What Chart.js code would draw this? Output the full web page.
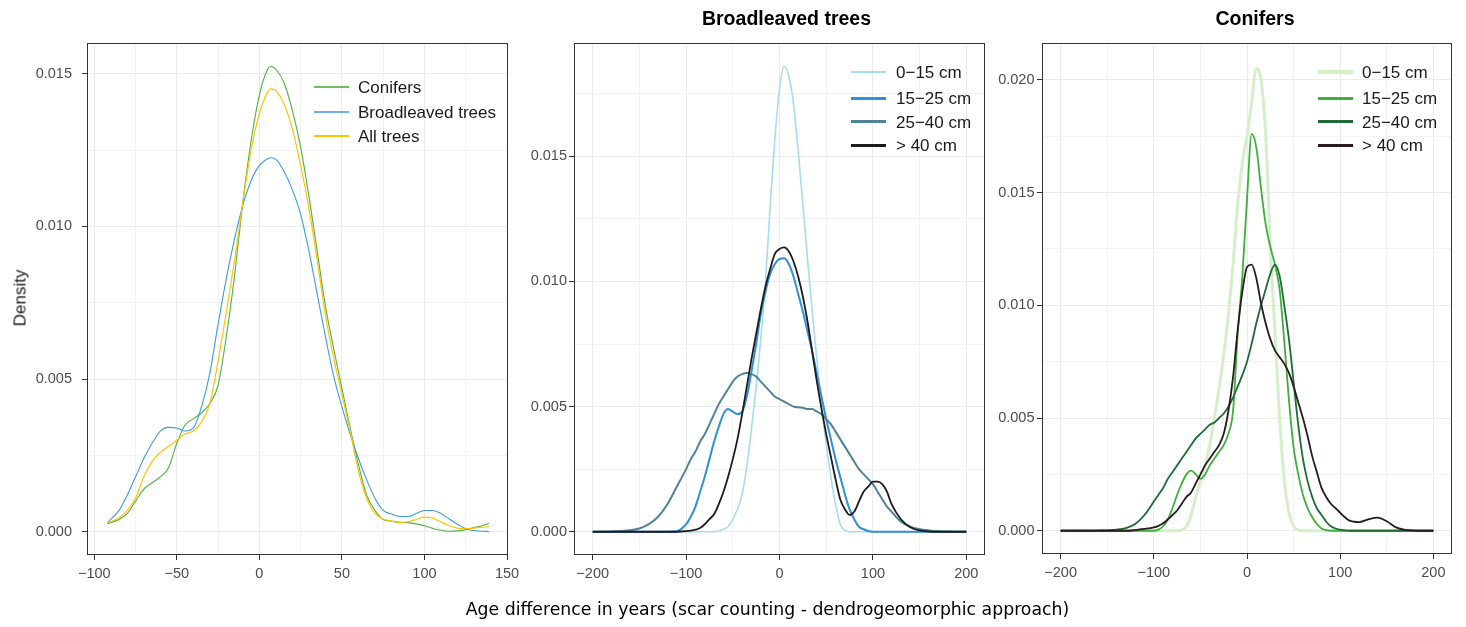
<!DOCTYPE html>
<html><head><meta charset="utf-8">
<script src="https://cdn.jsdelivr.net/npm/chart.js@4.4.0/dist/chart.umd.min.js"></script>
<style>
html,body{margin:0;padding:0;background:#fff;}
#wrap{position:relative;width:1466px;height:627px;overflow:hidden;font-family:'Liberation Sans',Arial,sans-serif;background:#fff;}
canvas{position:absolute;left:0;top:0;}
.txt{position:absolute;white-space:nowrap;line-height:1;}
.ttl{font-weight:bold;font-size:19.5px;color:#000;transform:translateX(-50%);}
.sw{position:absolute;width:35px;}
.lt{position:absolute;font-size:17px;line-height:17px;color:#1a1a1a;white-space:nowrap;transform:translateY(-50%);}
</style></head>
<body><div id="wrap">
<canvas id="c1" width="1466" height="627"></canvas>
<canvas id="c2" width="1466" height="627"></canvas>
<canvas id="c3" width="1466" height="627"></canvas>
<div class="txt ttl" style="left:786.5px;top:8.5px;">Broadleaved trees</div>
<div class="txt ttl" style="left:1255px;top:8.5px;">Conifers</div>
<div class="txt" style="left:20px;top:298px;font-size:17px;font-weight:normal;color:#1a1a1a;transform:translate(-50%,-50%) rotate(-90deg);">Density</div>
<div class="txt" style="left:767.5px;top:601.4px;font-family:'DejaVu Sans',Verdana,sans-serif;font-size:17.3px;color:#000;transform:translateX(-50%);">Age difference in years (scar counting - dendrogeomorphic approach)</div>
</div>
<script>
// ---------- Panel 1: all trees by group ----------
const overallX = [-92,-85,-80,-75,-70,-65,-60,-55,-50,-45,-40,-35,-30,-25,-20,-15,-10,-5,0,5,7,10,15,20,25,30,35,40,45,50,55,60,65,70,75,80,85,90,95,100,105,110,115,120,125,130,135,139];
const conifersAll = [0.00027,0.0004,0.0006,0.0010,0.0014,0.0016,0.0018,0.0021,0.0029,0.0035,0.0037,0.0039,0.0042,0.0048,0.0064,0.0084,0.0108,0.0128,0.0143,0.01515,0.01524,0.01515,0.0147,0.0138,0.0126,0.0110,0.0092,0.0074,0.0060,0.0047,0.0034,0.0022,0.0012,0.0007,0.0004,0.00035,0.00031,0.0003,0.00026,0.0002,0.00011,0.00005,0.00002,0.00003,0.00007,0.00014,0.0002,0.00027];
const broadleavedAll = [0.0003,0.0007,0.0012,0.0018,0.0024,0.0029,0.0033,0.00342,0.0034,0.0033,0.0034,0.0041,0.0052,0.0068,0.0083,0.0096,0.0107,0.0115,0.0120,0.01222,0.01225,0.0122,0.0118,0.0112,0.0104,0.0092,0.0078,0.0064,0.0051,0.0041,0.0032,0.0024,0.0017,0.0011,0.0007,0.00058,0.0005,0.0005,0.0006,0.0007,0.0007,0.0006,0.00042,0.00025,0.0001,0.00004,0.00002,0.00001];
const allTrees = [0.00029,0.00045,0.0007,0.0011,0.0018,0.0023,0.0026,0.0028,0.0030,0.0032,0.0033,0.0036,0.0042,0.0056,0.0072,0.0089,0.0108,0.0125,0.0137,0.0144,0.01451,0.01445,0.0140,0.0132,0.0120,0.0106,0.0089,0.0071,0.0057,0.0045,0.0033,0.0020,0.0011,0.0006,0.00042,0.00035,0.00031,0.00033,0.0004,0.00048,0.00045,0.00032,0.0002,0.00012,0.0001,0.00012,0.00015,0.00016];
const groupNames = ['Conifers','Broadleaved trees','All trees'];

// ---------- Panels 2 & 3: by diameter class ----------
const diamX = [-200,-180,-160,-150,-140,-130,-120,-110,-100,-95,-90,-85,-80,-75,-70,-65,-60,-55,-50,-45,-40,-35,-30,-25,-20,-15,-10,-5,0,5,10,15,20,25,30,35,40,45,50,55,60,65,70,75,80,85,90,95,100,105,110,115,120,130,140,150,160,170,180,190,200];
const classNames = ['0\u221215 cm','15\u221225 cm','25\u221240 cm','> 40 cm'];

const broad0_15 = [0,0,0,0,0,0,0,0,0,0,0,0,0,0,0,0.00003,0.0001,0.0002,0.0005,0.0009,0.0015,0.0026,0.0041,0.0058,0.0077,0.0100,0.0130,0.0157,0.0177,0.0186,0.0182,0.0171,0.0152,0.0131,0.0109,0.0088,0.0069,0.0050,0.0035,0.0022,0.0011,0.0003,0.00005,0,0,0,0,0,0,0,0,0,0,0,0,0,0,0,0,0,0];
const broad15_25 = [0,0,0,0,0,0,0,0.00002,0.0003,0.0006,0.0010,0.0016,0.0022,0.0029,0.0036,0.0042,0.0047,0.0049,0.0048,0.0047,0.0048,0.0054,0.0064,0.0075,0.0087,0.0096,0.0103,0.0107,0.0109,0.01093,0.0107,0.0102,0.0095,0.0088,0.0080,0.0072,0.0063,0.0054,0.0045,0.0037,0.0029,0.0022,0.0015,0.0009,0.0005,0.0002,0.0001,0.00003,0,0,0,0,0,0,0,0,0,0,0,0,0];
const broad25_40 = [0,0.00001,0.00006,0.00013,0.0003,0.0006,0.0011,0.0018,0.0025,0.0029,0.0032,0.0036,0.0039,0.0043,0.0047,0.0051,0.0054,0.0057,0.0060,0.0062,0.0063,0.00634,0.0063,0.0062,0.0060,0.0058,0.0056,0.0054,0.0053,0.0052,0.0051,0.0050,0.00497,0.00495,0.0049,0.0049,0.0048,0.0047,0.0045,0.0043,0.0040,0.0037,0.0034,0.0031,0.0028,0.0025,0.0023,0.0021,0.0019,0.0016,0.0013,0.0010,0.0008,0.0004,0.0002,0.0001,0.00005,0.00002,0.00001,0,0];
const broad40 = [0,0,0,0,0,0,0,0,0.00002,0.00004,0.00008,0.00015,0.0003,0.0005,0.0007,0.0011,0.0016,0.0022,0.0029,0.0037,0.0047,0.0058,0.0069,0.0079,0.0089,0.0098,0.0105,0.0111,0.0113,0.01136,0.0112,0.0108,0.0102,0.0094,0.0084,0.0072,0.0060,0.0049,0.0039,0.0030,0.0021,0.0013,0.0009,0.00067,0.0008,0.0012,0.0016,0.0018,0.0020,0.0020,0.0019,0.0016,0.0011,0.0005,0.00018,0.00005,0.00001,0,0,0,0];

const conif0_15 = [0,0,0,0,0,0,0,0,0,0,0,0,0,0,0.00003,0.0002,0.0007,0.0015,0.0022,0.0029,0.0038,0.0050,0.0063,0.0078,0.0096,0.0118,0.0145,0.0163,0.0175,0.0190,0.0205,0.0200,0.0176,0.0126,0.0088,0.0050,0.0022,0.0008,0.0002,0.00003,0,0,0,0,0,0,0,0,0,0,0,0,0,0,0,0,0,0,0,0,0];
const conif15_25 = [0,0,0,0,0,0,0,0,0,0.00005,0.0002,0.0005,0.0010,0.0016,0.0021,0.0025,0.00267,0.0025,0.0023,0.0025,0.0029,0.0032,0.0035,0.0038,0.0043,0.0053,0.0087,0.0113,0.0147,0.0176,0.0170,0.0152,0.0136,0.0126,0.0118,0.0107,0.0084,0.0058,0.0037,0.0025,0.0016,0.0010,0.0006,0.0003,0.0001,0.00003,0,0,0,0,0,0,0,0,0,0,0,0,0,0,0];
const conif25_40 = [0,0,0.00001,0.00002,0.00005,0.00012,0.0003,0.0007,0.0013,0.0016,0.0019,0.0023,0.0026,0.0029,0.0032,0.0035,0.0038,0.0041,0.0043,0.0045,0.0047,0.0048,0.0050,0.0052,0.0055,0.0059,0.0064,0.0069,0.0075,0.0083,0.0092,0.0100,0.0107,0.0114,0.0118,0.0113,0.0100,0.0085,0.0066,0.0047,0.0032,0.0022,0.0015,0.0010,0.0007,0.0004,0.0002,0.0001,0.00005,0.00002,0,0,0,0,0,0,0,0,0,0,0];
const conif40 = [0,0,0,0,0,0,0.00003,0.00008,0.00015,0.00022,0.00033,0.0005,0.0007,0.0009,0.0012,0.0015,0.0017,0.0021,0.0025,0.0029,0.0032,0.0035,0.0038,0.0043,0.0053,0.0068,0.0089,0.0106,0.0117,0.0118,0.0112,0.0101,0.0092,0.0085,0.0080,0.0077,0.0074,0.0070,0.0064,0.0057,0.0050,0.0042,0.0033,0.0026,0.0019,0.0015,0.0012,0.0010,0.0008,0.0006,0.00045,0.0004,0.00038,0.0005,0.00058,0.00042,0.00015,0.00004,0.00001,0,0];

// ---------- Tick labels ----------
const p1XMajor = [-100,-50,0,50,100,150];
const p1YMajor = [0,0.005,0.010,0.015];
const p2XMajor = [-200,-100,0,100,200];
const p2YMajor = [0,0.005,0.010,0.015];
const p3XMajor = [-200,-100,0,100,200];
const p3YMajor = [0,0.005,0.010,0.015,0.020];

Chart.defaults.font.family = "'Liberation Sans', Arial, sans-serif";
Chart.defaults.font.size = 14.5;
Chart.defaults.color = '#4D4D4D';

const boxPlugin = {
  id: 'panelBox',
  afterDraw(chart) {
    const {ctx, chartArea: a} = chart;
    const l = Math.round(a.left), t = Math.round(a.top), r = Math.round(a.right), b = Math.round(a.bottom);
    ctx.save();
    ctx.strokeStyle = '#333333';
    ctx.lineWidth = 1;
    ctx.strokeRect(l + 0.5, t + 0.5, r - l - 1, b - t - 1);
    ctx.restore();
  }
};

function withMinors(major) {
  const out = [];
  for (let i = 0; i < major.length; i++) {
    out.push(major[i]);
    if (i < major.length - 1) out.push((major[i] + major[i + 1]) / 2);
  }
  return out;
}
function isIn(v, arr) { return arr.some(m => Math.abs(m - v) < 1e-9); }
function fmtX(v) { return v < 0 ? '\u2212' + Math.abs(v) : String(v); }

function makePanel(id, area, xr, yr, xMajor, yMajorRaw, yExtraMinor, xs, series, yPad) {
  const xTicks = withMinors(xMajor);
  const yTicks = withMinors(yMajorRaw).concat(yExtraMinor);
  const n = series.length;
  const gridColor = (major) => (ctx) => isIn(ctx.tick.value, major) ? '#EBEBEB' : '#F3F3F3';
  const tickColor = (major) => (ctx) => isIn(ctx.tick.value, major) ? '#333333' : 'rgba(0,0,0,0)';
  return new Chart(document.getElementById(id), {
    type: 'line',
    data: {
      datasets: series.map((s, i) => ({
        label: s.name,
        data: xs.map((x, k) => ({x: x, y: s.values[k]})),
        borderColor: s.color,
        borderWidth: s.width,
        pointRadius: 0,
        fill: false,
        cubicInterpolationMode: 'monotone',
        order: n - 1 - i
      }))
    },
    options: {
      responsive: false, animation: false, devicePixelRatio: 1, events: [],
      layout: { padding: { left: area.left - 60, right: 1466 - area.right, top: area.top, bottom: 627 - area.bottom - 40 } },
      plugins: { legend: { display: false }, tooltip: { enabled: false }, title: { display: false } },
      scales: {
        x: {
          type: 'linear', min: xr[0], max: xr[1],
          afterBuildTicks: s => { s.ticks = xTicks.map(v => ({value: v})); },
          afterFit: s => { s.height = 40; },
          border: { display: false },
          grid: { color: gridColor(xMajor), lineWidth: 1, drawTicks: true, tickLength: 5, tickWidth: 1, tickColor: tickColor(xMajor) },
          ticks: { padding: 5, maxRotation: 0, autoSkip: false, color: '#4D4D4D',
                   callback: v => isIn(v, xMajor) ? fmtX(v) : '' }
        },
        y: {
          type: 'linear', min: yr[0], max: yr[1],
          afterBuildTicks: s => { s.ticks = yTicks.map(v => ({value: v})); },
          afterFit: s => { s.width = 60; },
          border: { display: false },
          grid: { color: gridColor(yMajorRaw), lineWidth: 1, drawTicks: true, tickLength: 5, tickWidth: 1, tickColor: tickColor(yMajorRaw) },
          ticks: { padding: yPad, autoSkip: false, color: '#4D4D4D',
                   callback: v => isIn(v, yMajorRaw) ? v.toFixed(3) : '' }
        }
      }
    },
    plugins: [boxPlugin]
  });
}

makePanel('c1', {left: 87, right: 508, top: 43, bottom: 555}, [-104.4, 150.6], [-0.00076, 0.01601],
  p1XMajor, p1YMajor, [], overallX, [
    {name: groupNames[0], values: conifersAll, color: '#52B044', width: 1.1},
    {name: groupNames[1], values: broadleavedAll, color: '#3C9BE0', width: 1.1},
    {name: groupNames[2], values: allTrees, color: '#FFC400', width: 1.2}
  ], 10);

makePanel('c2', {left: 574, right: 985, top: 43, bottom: 555}, [-220, 220], [-0.00093, 0.01953],
  p2XMajor, p2YMajor, [0.0175], diamX, [
    {name: classNames[0], values: broad0_15, color: '#A6DCF2', width: 1.6},
    {name: classNames[1], values: broad15_25, color: '#2F8FD8', width: 2},
    {name: classNames[2], values: broad25_40, color: '#4F8399', width: 2},
    {name: classNames[3], values: broad40, color: '#1E1A1E', width: 1.8}
  ], 2);

makePanel('c3', {left: 1042, right: 1452, top: 43, bottom: 554}, [-220, 220], [-0.00103, 0.02163],
  p3XMajor, p3YMajor, [], diamX, [
    {name: classNames[0], values: conif0_15, color: '#D5EFCB', width: 3},
    {name: classNames[1], values: conif15_25, color: '#3CAF3C', width: 1.8},
    {name: classNames[2], values: conif25_40, color: '#1E6B36', width: 1.8},
    {name: classNames[3], values: conif40, color: '#2A1A1F', width: 1.8}
  ], 2.5);

// ---------- Legends (HTML text) ----------
function legend(x, rows, textX, items) {
  const wrap = document.getElementById('wrap');
  items.forEach((it, i) => {
    const y = rows[i];
    const sw = document.createElement('div');
    sw.className = 'sw';
    sw.style.left = x + 'px';
    sw.style.top = Math.round(y - it.w / 2) + 'px';
    sw.style.height = it.w + 'px';
    sw.style.background = it.color;
    wrap.appendChild(sw);
    const t = document.createElement('div');
    t.className = 'lt';
    t.style.left = textX + 'px';
    t.style.top = y + 'px';
    t.textContent = it.name;
    wrap.appendChild(t);
  });
}
legend(314, [87.3, 111.7, 136], 358, [
  {name: groupNames[0], color: '#6CC05E', w: 2},
  {name: groupNames[1], color: '#6DB3E8', w: 2},
  {name: groupNames[2], color: '#FFC400', w: 2}
]);
legend(851, [72.3, 98.3, 121.7, 145], 896, [
  {name: classNames[0], color: '#A6DCF2', w: 2},
  {name: classNames[1], color: '#2F8FD8', w: 3},
  {name: classNames[2], color: '#4F8399', w: 3},
  {name: classNames[3], color: '#1E1A1E', w: 3}
]);
legend(1318, [72.3, 98.3, 121.7, 145], 1362, [
  {name: classNames[0], color: '#D5EFCB', w: 4},
  {name: classNames[1], color: '#3CAF3C', w: 3},
  {name: classNames[2], color: '#1E6B36', w: 3},
  {name: classNames[3], color: '#2A1A1F', w: 3}
]);
</script>
</body></html>
